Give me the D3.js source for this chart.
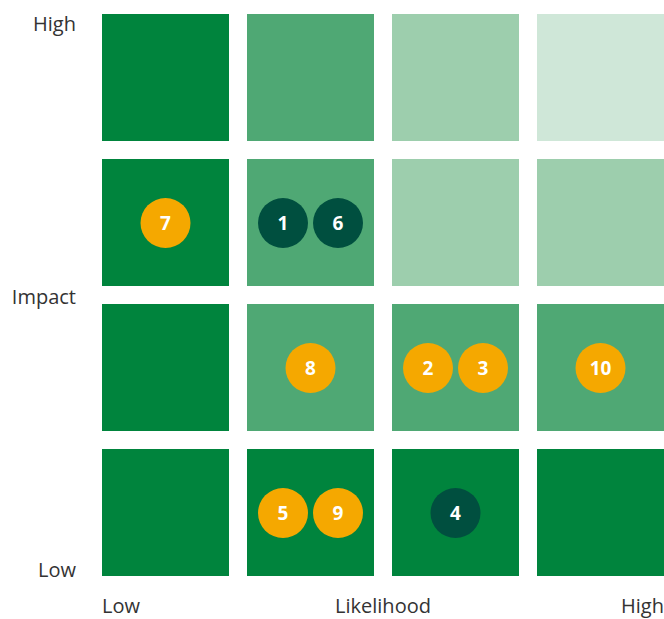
<!DOCTYPE html>
<html><head><meta charset="utf-8">
<script src="https://cdn.jsdelivr.net/npm/d3@7"></script>
<style>body{margin:0;background:#fff}svg{display:block}text{font-family:"Open Sans",Lato,sans-serif}</style>
</head><body><svg id="c" width="664" height="619"></svg>
<script>
const likelihoodLevels = [1, 2, 3, 4];
const impactLevels = [4, 3, 2, 1];
// cell shade level per [impact row from High to Low][likelihood col]
const cellShades = [
  [0, 1, 2, 3],
  [0, 1, 2, 2],
  [0, 1, 1, 1],
  [0, 0, 0, 0]
];
const shadeColors = ["#00843D", "#4FA874", "#9DCEAD", "#CFE7D8"];
const riskIds = [1, 2, 3, 4, 5, 6, 7, 8, 9, 10];
const riskLikelihood = [2, 3, 3, 3, 2, 2, 1, 2, 2, 4];
const riskImpact = [3, 2, 2, 1, 1, 3, 3, 2, 1, 2];
const riskType = ["dark", "amber", "amber", "dark", "amber", "dark", "amber", "amber", "amber", "amber"];
const typeColors = {dark: "#004F3F", amber: "#F5A800"};
const xTickLabels = ["Low", "Likelihood", "High"];
const yTickLabels = ["High", "Impact", "Low"];

const svg = d3.select("#c");
const p = 18 / 145;
const x = d3.scaleBand().domain(likelihoodLevels).range([102, 664]).paddingInner(p).paddingOuter(0);
const y = d3.scaleBand().domain(impactLevels).range([14, 576]).paddingInner(p).paddingOuter(0);

const cells = [];
impactLevels.forEach((imp, r) => likelihoodLevels.forEach((lik, c) => cells.push({imp, lik, shade: cellShades[r][c]})));
svg.append("g").selectAll("rect").data(cells).join("rect")
  .attr("x", d => x(d.lik)).attr("y", d => y(d.imp))
  .attr("width", x.bandwidth()).attr("height", y.bandwidth())
  .attr("fill", d => shadeColors[d.shade]);

const risks = riskIds.map((id, i) => ({id, lik: riskLikelihood[i], imp: riskImpact[i], type: riskType[i]}));
const groups = d3.group(risks, d => d.lik + "-" + d.imp);
groups.forEach(arr => arr.forEach((d, i) => { d.k = i; d.n = arr.length; }));
const sep = 55;
const g = svg.append("g").selectAll("g").data(risks).join("g")
  .attr("transform", d => {
    const cx = x(d.lik) + x.bandwidth() / 2 + (d.k - (d.n - 1) / 2) * sep;
    const cy = y(d.imp) + y.bandwidth() / 2 + 0.5;
    return `translate(${cx},${cy})`;
  });
g.append("circle").attr("r", 25).attr("fill", d => typeColors[d.type]);
g.append("text").text(d => d.id).attr("text-anchor", "middle").attr("dy", "0.36em")
  .attr("fill", "#fff").attr("font-size", 19).attr("font-weight", 700);

// axis labels
svg.append("g").selectAll("text").data(yTickLabels).join("text")
  .attr("x", 76).attr("y", (d, i) => [24, 297, 570][i]).attr("dy", "0.35em")
  .attr("text-anchor", "end").attr("font-size", 20).attr("fill", "#333").text(d => d);
svg.append("g").selectAll("text").data(xTickLabels).join("text")
  .attr("x", (d, i) => [102, 383, 664][i]).attr("y", 606).attr("dy", "0.35em")
  .attr("text-anchor", (d, i) => ["start", "middle", "end"][i])
  .attr("font-size", 20).attr("fill", "#333").text(d => d);
</script></body></html>
